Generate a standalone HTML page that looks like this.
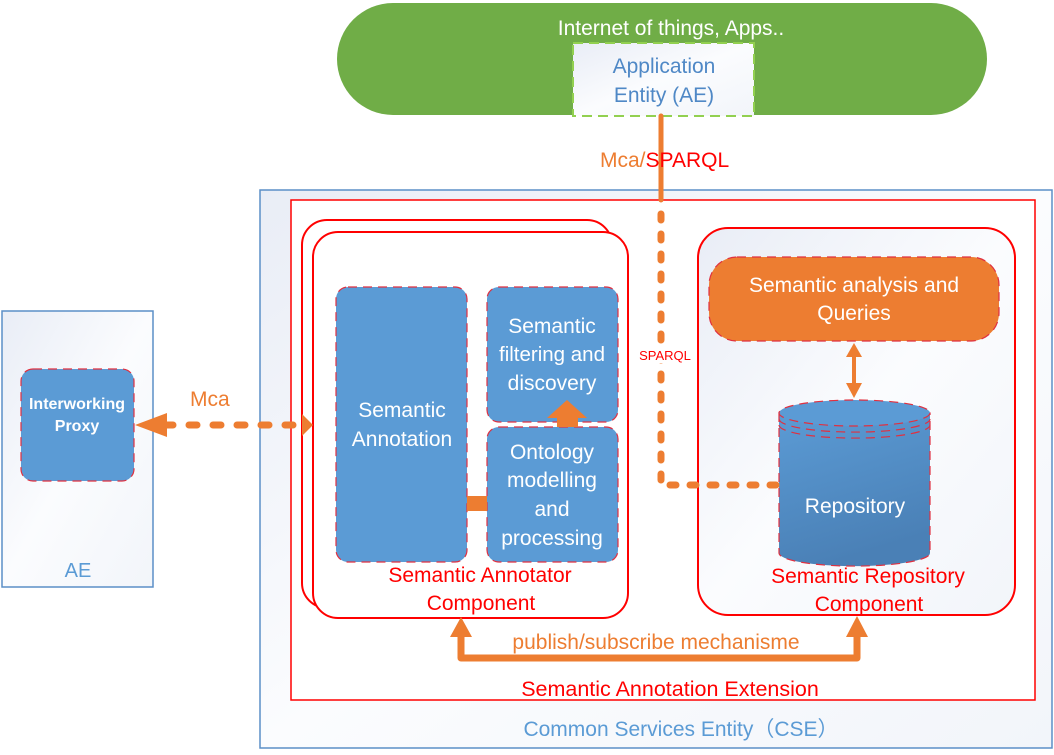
<!DOCTYPE html>
<html><head><meta charset="utf-8"><style>
html,body{margin:0;padding:0;background:#fff;}
svg{display:block;font-family:"Liberation Sans",sans-serif;}
</style></head><body>
<svg width="1054" height="755" viewBox="0 0 1054 755" xmlns="http://www.w3.org/2000/svg">
<defs>
<linearGradient id="bg" x1="0" y1="0" x2="1" y2="1"><stop offset="0" stop-color="#e9edf6"/><stop offset="0.5" stop-color="#fbfcfe"/><stop offset="1" stop-color="#f2f5fa"/></linearGradient>
<linearGradient id="cyl" x1="0" y1="0" x2="0.3" y2="1"><stop offset="0" stop-color="#5b9bd5"/><stop offset="1" stop-color="#4a80b6"/></linearGradient>
</defs>
<rect x="337" y="3" width="650" height="112" rx="56" fill="#70ad47"/>
<text x="671" y="35" font-size="21" fill="#fff" text-anchor="middle">Internet of things, Apps..</text>
<rect x="573" y="43" width="181" height="73" fill="url(#bg)" stroke="#92d050" stroke-width="2" stroke-dasharray="10,6"/>
<text x="664" y="73" font-size="21" fill="#4f88c6" text-anchor="middle">Application</text>
<text x="664" y="102" font-size="21" fill="#4f88c6" text-anchor="middle">Entity (AE)</text>
<rect x="260" y="190" width="792" height="558" fill="url(#bg)" stroke="#5b8fc7" stroke-width="1.5"/>
<rect x="291" y="200" width="744" height="500" fill="#fff" stroke="#f00" stroke-width="1.5"/>
<text x="670" y="696" font-size="21.5" fill="#f00" text-anchor="middle">Semantic Annotation Extension</text>
<text x="681" y="736" font-size="21" fill="#5b9bd5" text-anchor="middle">Common Services Entity（CSE）</text>
<rect x="2" y="311" width="151" height="276" fill="url(#bg)" stroke="#5b8fc7" stroke-width="1.5"/>
<text x="78" y="577" font-size="20" fill="#5b9bd5" text-anchor="middle">AE</text>
<rect x="21" y="369" width="113" height="112" rx="12" fill="#5b9bd5" stroke="#e03040" stroke-width="1.2" stroke-dasharray="9,6"/>
<text x="77" y="409" font-size="16" font-weight="bold" fill="#fff" text-anchor="middle">Interworking</text>
<text x="77" y="431" font-size="16" font-weight="bold" fill="#fff" text-anchor="middle">Proxy</text>
<rect x="302" y="220" width="310" height="388" rx="25" fill="#fff" stroke="#f00" stroke-width="2"/>
<rect x="313" y="232" width="315" height="386" rx="25" fill="#fff" stroke="#f00" stroke-width="2"/>
<rect x="336" y="287" width="131" height="275" rx="12" fill="#5b9bd5" stroke="#e03040" stroke-width="1.2" stroke-dasharray="9,6"/>
<text x="402" y="417" font-size="21" fill="#fff" text-anchor="middle">Semantic</text>
<text x="402" y="446" font-size="21" fill="#fff" text-anchor="middle">Annotation</text>
<rect x="487" y="287" width="131" height="135" rx="12" fill="#5b9bd5" stroke="#e03040" stroke-width="1.2" stroke-dasharray="9,6"/>
<text x="552" y="333" font-size="21" fill="#fff" text-anchor="middle">Semantic</text>
<text x="552" y="361" font-size="20.5" fill="#fff" text-anchor="middle">filtering and</text>
<text x="552" y="390" font-size="21" fill="#fff" text-anchor="middle">discovery</text>
<rect x="487" y="427" width="131" height="135" rx="12" fill="#5b9bd5" stroke="#e03040" stroke-width="1.2" stroke-dasharray="9,6"/>
<text x="552" y="459" font-size="21" fill="#fff" text-anchor="middle">Ontology</text>
<text x="552" y="487" font-size="21" fill="#fff" text-anchor="middle">modelling</text>
<text x="552" y="516" font-size="21" fill="#fff" text-anchor="middle">and</text>
<text x="552" y="545" font-size="21" fill="#fff" text-anchor="middle">processing</text>
<polygon points="547,418 567,400 587,418 578,418 578,427 557,427 557,418" fill="#ed7d31"/>
<rect x="467" y="496" width="20" height="15" fill="#ed7d31"/>
<text x="480" y="582" font-size="21" fill="#f00" text-anchor="middle">Semantic Annotator</text>
<text x="481" y="610" font-size="21" fill="#f00" text-anchor="middle">Component</text>
<rect x="698" y="228" width="317" height="387" rx="30" fill="url(#bg)" stroke="#f00" stroke-width="2"/>
<rect x="709" y="257" width="290" height="84" rx="28" fill="#ed7d31" stroke="#e03040" stroke-width="1.2" stroke-dasharray="9,6"/>
<text x="854" y="292" font-size="21" fill="#fff" text-anchor="middle">Semantic analysis and</text>
<text x="854" y="320" font-size="21" fill="#fff" text-anchor="middle">Queries</text>
<line x1="854" y1="352" x2="854" y2="388" stroke="#ed7d31" stroke-width="4"/>
<polygon points="846,357 854,343 862,357" fill="#ed7d31"/>
<polygon points="846,383 854,398 862,383" fill="#ed7d31"/>
<path d="M779,413 L779,553 A75,13 0 0 0 930,553 L930,413 Z" fill="url(#cyl)" stroke="#e03040" stroke-width="1.2" stroke-dasharray="9,6"/>
<ellipse cx="854.5" cy="413" rx="75.5" ry="13" fill="#5b9bd5" stroke="#e03040" stroke-width="1.2" stroke-dasharray="9,6"/>
<path d="M779,419 A75,13 0 0 0 930,419 M779,425 A75,13 0 0 0 930,425" fill="none" stroke="#e03040" stroke-width="1.2" stroke-dasharray="9,6"/>
<text x="855" y="513" font-size="21" fill="#fff" text-anchor="middle">Repository</text>
<text x="868" y="583" font-size="21" fill="#f00" text-anchor="middle">Semantic Repository</text>
<text x="869" y="611" font-size="21" fill="#f00" text-anchor="middle">Component</text>
<line x1="661" y1="116" x2="661" y2="200" stroke="#ed7d31" stroke-width="5" stroke-linecap="round"/>
<path d="M661,214 L661,485 L779,485" fill="none" stroke="#ed7d31" stroke-width="7" stroke-linecap="round" stroke-dasharray="6,14"/>
<rect x="638" y="345" width="56" height="18" fill="#fff"/>
<text x="665" y="360" font-size="13" fill="#f00" text-anchor="middle">SPARQL</text>
<text x="600" y="167" font-size="21" fill="#ed7d31">Mca/<tspan fill="#f00">SPARQL</tspan></text>
<line x1="165" y1="425" x2="295" y2="425" stroke="#ed7d31" stroke-width="7" stroke-linecap="round" stroke-dasharray="8,16"/>
<polygon points="135,425 167,413 167,437" fill="#ed7d31"/>
<polygon points="313,425 302,414 302,436" fill="#ed7d31"/>
<text x="190" y="406" font-size="21" fill="#ed7d31">Mca</text>
<path d="M461,634 L461,658 L857,658 L857,634" fill="none" stroke="#ed7d31" stroke-width="7" stroke-linejoin="round"/>
<polygon points="450,637 461,617 472,637" fill="#ed7d31"/>
<polygon points="846,637 857,616 868,637" fill="#ed7d31"/>
<text x="656" y="649" font-size="21" fill="#ed7d31" text-anchor="middle">publish/subscribe mechanisme</text>
</svg>
</body></html>
